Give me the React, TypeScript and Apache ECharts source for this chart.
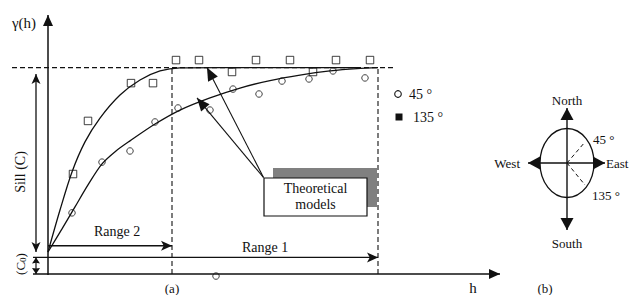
import React, { useEffect, useRef } from "react";
import * as echarts from "echarts";

// ---- data (lag h, semivariance gamma) ----
const lag135 = [6.25, 10, 20.75, 26.25, 32, 37.75, 46, 52, 60.5, 66.25, 72, 80.5];
const gamma135 = [38.6, 59.1, 73.7, 73.7, 82.6, 82.6, 78, 82.6, 82.6, 78, 82.6, 82.6];
const lag45 = [6, 13.5, 20.5, 26.75, 32.5, 40.5, 46.25, 52.75, 58.5, 65.25, 71.25, 79.25, 42];
const gamma45 = [23.6, 43.2, 47.5, 58.7, 64.1, 63.3, 71.4, 69.5, 74.5, 75.3, 78.4, 75.7, -0.8];

// theoretical model curves
const model135Lag = [0, 3, 6, 9.25, 13, 18, 23, 28, 33, 43, 77];
const model135Gamma = [8.5, 24.7, 39.4, 51, 60.2, 69.1, 74.9, 78.4, 79.6, 79.7, 79.7];
const model45Lag = [0, 3.5, 6.75, 10, 13.5, 17, 20.5, 26.75, 33, 40.5, 48, 55.5, 63, 70.5, 77.25, 82.5];
const model45Gamma = [8.5, 17.4, 25.9, 34.4, 42.5, 47.5, 51.4, 57.9, 63.3, 68, 71.8, 74.7, 76.8, 78.4, 79.3, 79.65];

const SILL = 79.7;
const NUGGET = 6.4;
const RANGE_2 = 31;
const RANGE_1 = 82.5;

const legendLabels = ["45 °", "135 °"];
const compassLabels = ["North", "South", "West", "East"];
const compassAngles = ["45 °", "135 °"];

const W = 629;
const H = 295;
const FONT = "'Liberation Serif', 'Times New Roman', serif";
const INK = "#111";

const zip = (a: number[], b: number[]) => a.map((v, i) => [v, b[i]]);

export default function App() {
  const ref = useRef<HTMLDivElement>(null);
  useEffect(() => {
    const chart = echarts.init(ref.current!, null, { renderer: "svg" });
    chart.setOption({
      animation: false,
      backgroundColor: "#fff",
      grid: { left: 0, top: 15, width: 500, height: 259 },
      xAxis: { type: "value", min: -12, max: 113, show: false },
      yAxis: { type: "value", min: 0, max: 100, show: false },
      series: [
        {
          type: "line", data: zip(model135Lag, model135Gamma), smooth: 0.3,
          symbol: "none", lineStyle: { color: INK, width: 1.3 }, z: 3, silent: true,
        },
        {
          type: "line", data: zip(model45Lag, model45Gamma), smooth: 0.3,
          symbol: "none", lineStyle: { color: INK, width: 1.3 }, z: 3, silent: true,
        },
        {
          type: "scatter", data: zip(lag135, gamma135), symbol: "rect", symbolSize: 7.5, clip: false,
          itemStyle: { color: "rgba(0,0,0,0)", borderColor: INK, borderWidth: 1 }, z: 4, silent: true,
        },
        {
          type: "scatter", data: zip(lag45, gamma45), symbol: "circle", symbolSize: 6.5, clip: false,
          itemStyle: { color: "rgba(0,0,0,0)", borderColor: INK, borderWidth: 1 }, z: 4, silent: true,
        },
      ],
    });

    const p = (h: number, g: number) => chart.convertToPixel({ gridIndex: 0 }, [h, g]) as number[];
    const els: any[] = [];
    const line = (a: number[], b: number[], w = 1.3, dash?: number[]) =>
      els.push({
        type: "line", silent: true,
        shape: { x1: a[0], y1: a[1], x2: b[0], y2: b[1] },
        style: { stroke: INK, lineWidth: w, lineDash: dash },
      });
    const head = (tip: number[], from: number[], len: number, hw: number, notch = 0) => {
      const dx = tip[0] - from[0], dy = tip[1] - from[1];
      const d = Math.hypot(dx, dy);
      const ux = dx / d, uy = dy / d, nx = -uy, ny = ux;
      const bx = tip[0] - ux * len, by = tip[1] - uy * len;
      const pts = [[tip[0], tip[1]], [bx + nx * hw, by + ny * hw]];
      if (notch > 0) pts.push([tip[0] - ux * len * (1 - notch), tip[1] - uy * len * (1 - notch)]);
      pts.push([bx - nx * hw, by - ny * hw]);
      els.push({ type: "polygon", silent: true, shape: { points: pts }, style: { fill: INK } });
    };
    const arrow = (a: number[], b: number[], len: number, hw: number, notch = 0, both = false, w = 1.3) => {
      line(a, b, w);
      head(b, a, len, hw, notch);
      if (both) head(a, b, len, hw, notch);
    };
    const text = (t: string, x: number, y: number, size = 14, align = "center", extra: any = {}) =>
      els.push({
        type: "text", silent: true, x, y, ...extra,
        style: { text: t, font: `${size}px ${FONT}`, fill: INK, textAlign: align, textVerticalAlign: "middle" },
      });

    // axes
    arrow(p(-3.75, 0), p(113, 0), 11, 5, 0, false, 1.5);
    arrow(p(0, -0.4), p(0, 100), 11, 5, 0, false, 1.5);
    // nugget / range 1 line
    arrow(p(-3.75, NUGGET), p(RANGE_1, NUGGET), 11, 5, 0.25);
    // range 2
    arrow(p(0, 10.9), p(RANGE_2, 10.9), 11, 5, 0.25);
    // sill double arrow
    arrow(p(-3, 8.5), p(-3, 77.2), 10, 4.5, 0.25, true);
    // nugget double arrow
    arrow(p(-3, 0), p(-3, NUGGET), 6, 4, 0.1, true, 1.2);
    // dashed sill & ranges
    line(p(-9, SILL), p(86.25, SILL), 1.2, [5, 3]);
    line(p(RANGE_2, 0), p(RANGE_2, SILL), 1.1, [5, 3]);
    line(p(RANGE_1, 0), p(RANGE_1, SILL), 1.1, [5, 3]);

    // theoretical models box
    els.push({ type: "rect", silent: true, shape: { x: 273, y: 168, width: 104, height: 39 }, style: { fill: "#808080" } });
    els.push({ type: "rect", silent: true, shape: { x: 264, y: 178, width: 103, height: 38 }, style: { fill: "#fff", stroke: INK, lineWidth: 1.2 } });
    text("Theoretical", 315.5, 188);
    text("models", 315.5, 204);
    const corner = [263.5, 177.5];
    arrow(corner, p(39.75, SILL), 13, 5.5, 0, false, 1.1);
    arrow(corner, p(37.25, 68), 13, 5.5, 0, false, 1.1);

    // labels
    text("γ(h)", 24, 23, 15);
    text("Sill (C)", 20, 172, 14, "center", { rotation: Math.PI / 2 });
    els.push({
      type: "text", silent: true, x: 20, y: 264, rotation: Math.PI / 2,
      style: {
        text: "(C{s|0})", font: `13px ${FONT}`, fill: INK, textAlign: "center", textVerticalAlign: "middle",
        rich: { s: { fontSize: 9, fontFamily: FONT, fill: INK, padding: [5, 0, 0, 0] } },
      },
    });
    text("Range 2", 117, 231);
    text("Range 1", 265, 247);
    text("(a)", 172, 288, 13);
    text("h", 473, 288, 15);

    // legend
    els.push({ type: "circle", silent: true, shape: { cx: 398, cy: 94, r: 3.3 }, style: { fill: "none", stroke: INK, lineWidth: 1.1 } });
    text(legendLabels[0], 409, 94, 14, "left");
    els.push({ type: "rect", silent: true, shape: { x: 395.5, y: 113.5, width: 7, height: 7 }, style: { fill: INK } });
    text(legendLabels[1], 413, 117, 14, "left");

    // compass (b)
    const cx = 567, cy = 163;
    els.push({ type: "ellipse", silent: true, shape: { cx, cy, rx: 27, ry: 34.5 }, style: { fill: "none", stroke: INK, lineWidth: 1.3 } });
    arrow([cx, 230], [cx, 108], 12, 6.5, 0, true, 1.4);
    arrow([528, cy], [605, cy], 12, 6.5, 0, true, 1.4);
    line([cx, cy], [585, 142], 1, [4, 3]);
    line([cx, cy], [585, 185], 1, [4, 3]);
    text(compassLabels[0], cx, 100, 13);
    text(compassLabels[1], cx, 243, 13);
    text(compassLabels[2], 520, cy, 13, "right");
    text(compassLabels[3], 606, cy, 13, "left");
    text(compassAngles[0], 593, 139, 13, "left");
    text(compassAngles[1], 592, 195, 13, "left");
    text("(b)", 545, 288, 13);

    chart.setOption({ graphic: { elements: els } });
    return () => chart.dispose();
  }, []);
  return <div ref={ref} style={{ position: "fixed", left: 0, top: 0, width: W, height: H, background: "#fff" }} />;
}
